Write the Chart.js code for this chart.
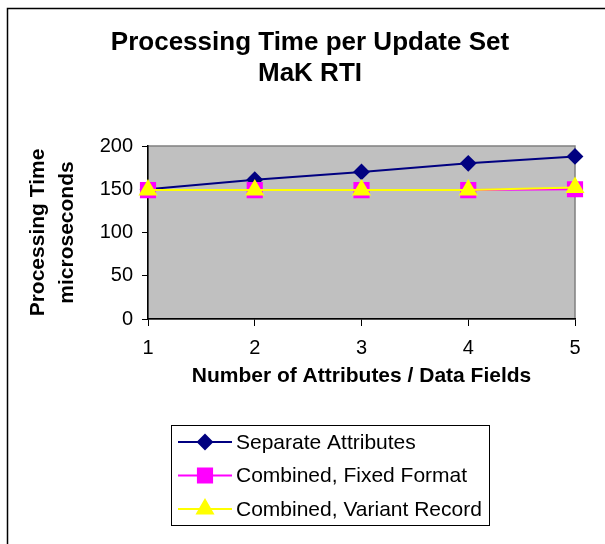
<!DOCTYPE html>
<html>
<head>
<meta charset="utf-8">
<script src="https://cdn.jsdelivr.net/npm/chart.js@4/dist/chart.umd.min.js"></script>
<style>
  html, body { margin: 0; padding: 0; background: #fff; overflow: hidden; }
  #wrap { width: 605px; height: 544px; }
</style>
</head>
<body>
<div id="wrap"><canvas id="rtiChart" width="605" height="544"></canvas></div>
<script>
// Chart data
const attributeCounts = ['1', '2', '3', '4', '5'];
const separateAttributes = [150, 161, 170, 180, 188];
const combinedFixed = [149, 149, 149, 149, 150];
const combinedVariant = [149, 149, 149, 149, 152];
const yTicks = [0, 50, 100, 150, 200];

const titleLines = ['Processing Time per Update Set', 'MaK RTI'];
const FONT = '"Liberation Sans", Arial, sans-serif';

// Outer frame, title and grey plot area (Excel style)
const framePlugin = {
    id: 'frame',
    beforeDraw(chart) {
        const ctx = chart.ctx;
        const area = chart.chartArea;
        ctx.save();
        ctx.fillStyle = '#fff';
        ctx.fillRect(0, 0, chart.width, chart.height);
        ctx.strokeStyle = '#000';
        ctx.lineWidth = 1.5;
        ctx.strokeRect(7.5, 8.5, 800, 800);

        ctx.fillStyle = '#c0c0c0';
        ctx.fillRect(area.left, area.top, area.right - area.left, area.bottom - area.top);
        ctx.strokeStyle = '#808080';
        ctx.lineWidth = 1.5;
        ctx.strokeRect(area.left, area.top, area.right - area.left, area.bottom - area.top);

        ctx.fillStyle = '#000';
        ctx.font = 'bold 26px ' + FONT;
        ctx.textAlign = 'center';
        ctx.textBaseline = 'middle';
        ctx.fillText(titleLines[0], 310, 43);
        ctx.fillText(titleLines[1], 310, 74);
        ctx.restore();
    }
};

// Boxed legend with line + marker samples
const legendPlugin = {
    id: 'boxLegend',
    afterDraw(chart) {
        const ctx = chart.ctx;
        ctx.save();
        ctx.strokeStyle = '#000';
        ctx.lineWidth = 1;
        ctx.strokeRect(171.5, 425.5, 318, 100);
        ctx.font = '21px ' + FONT;
        ctx.textAlign = 'left';
        ctx.textBaseline = 'middle';
        chart.data.datasets.forEach((ds, i) => {
            const y = 442 + i * 33.5;
            ctx.strokeStyle = ds.borderColor;
            ctx.lineWidth = 2;
            ctx.beginPath();
            ctx.moveTo(178, y);
            ctx.lineTo(232, y);
            ctx.stroke();
            ctx.fillStyle = ds.pointBackgroundColor;
            ctx.strokeStyle = ds.borderColor;
            Chart.helpers.drawPoint(ctx, {
                pointStyle: ds.pointStyle,
                radius: ds.pointRadius,
                rotation: 0,
                borderWidth: 1
            }, 205, y);
            ctx.fillStyle = '#000';
            ctx.fillText(ds.label, 236, y + 1);
        });
        ctx.restore();
    }
};

const ctx = document.getElementById('rtiChart').getContext('2d');
new Chart(ctx, {
    type: 'line',
    data: {
        labels: attributeCounts,
        datasets: [{
            label: 'Separate Attributes',
            data: separateAttributes,
            borderColor: '#000080',
            backgroundColor: '#000080',
            pointBackgroundColor: '#000080',
            pointStyle: 'rectRot',
            pointRadius: 7,
            borderWidth: 2,
            order: 2
        }, {
            label: 'Combined, Fixed Format',
            data: combinedFixed,
            borderColor: '#ff00ff',
            backgroundColor: '#ff00ff',
            pointBackgroundColor: '#ff00ff',
            pointStyle: 'rect',
            pointRadius: 10,
            borderWidth: 2,
            order: 1
        }, {
            label: 'Combined, Variant Record',
            data: combinedVariant,
            borderColor: '#ffff00',
            backgroundColor: '#ffff00',
            pointBackgroundColor: '#ffff00',
            pointStyle: 'triangle',
            pointRadius: 9,
            borderWidth: 2,
            order: 0
        }]
    },
    options: {
        responsive: false,
        animation: false,
        layout: {
            padding: { left: 0, right: 30, top: 146, bottom: 155 }
        },
        plugins: {
            legend: { display: false },
            title: { display: false },
            tooltip: { enabled: false }
        },
        elements: {
            line: { tension: 0 },
            point: { borderWidth: 1 }
        },
        scales: {
            x: {
                offset: false,
                afterFit: scale => { scale.height = 70; },
                grid: {
                    drawOnChartArea: false,
                    tickLength: 7,
                    color: '#000'
                },
                border: { color: '#000', width: 1.5 },
                ticks: {
                    color: '#000',
                    padding: 10,
                    font: { family: FONT, size: 20 }
                },
                title: {
                    display: true,
                    text: 'Number of Attributes / Data Fields',
                    color: '#000',
                    padding: { top: 0, bottom: 0 },
                    font: { family: FONT, size: 21, weight: 'bold' }
                }
            },
            y: {
                min: 0,
                max: 200,
                afterFit: scale => { scale.width = 148; },
                afterBuildTicks: scale => {
                    scale.ticks = yTicks.map(v => ({ value: v }));
                },
                grid: {
                    drawOnChartArea: false,
                    tickLength: 6,
                    color: '#000'
                },
                border: { color: '#000', width: 1.5 },
                ticks: {
                    color: '#000',
                    padding: 9,
                    font: { family: FONT, size: 20 }
                },
                title: {
                    display: true,
                    text: ['Processing Time', 'microseconds'],
                    color: '#000',
                    padding: { top: 24, bottom: 0 },
                    font: { family: FONT, size: 21, weight: 'bold', lineHeight: 1.38 }
                }
            }
        }
    },
    plugins: [framePlugin, legendPlugin]
});
</script>
</body>
</html>
